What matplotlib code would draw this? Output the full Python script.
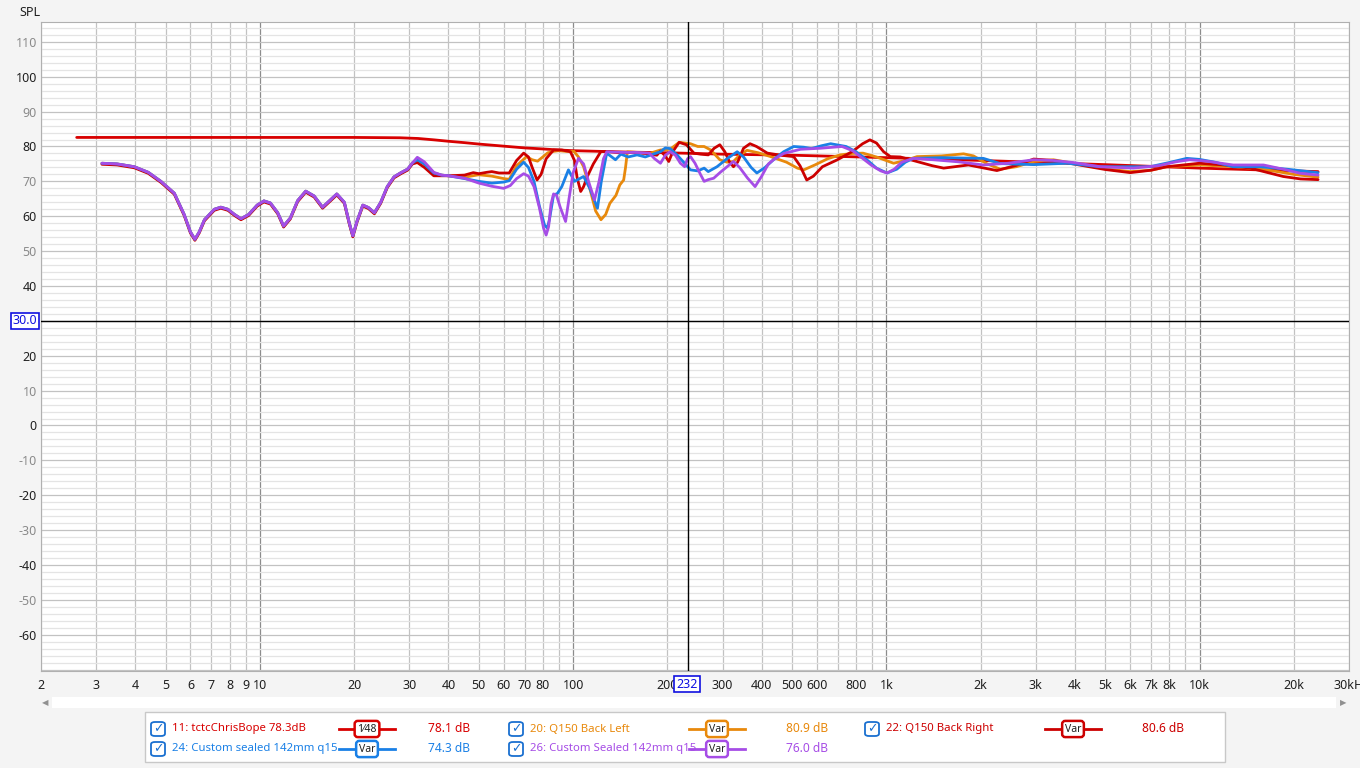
import matplotlib
matplotlib.use("Agg")
import matplotlib.pyplot as plt
from matplotlib.patches import Rectangle, FancyBboxPatch
from matplotlib.lines import Line2D

plt.rcParams['font.family'] = ['Noto Sans', 'DejaVu Sans']

# low frequency part, the same for all four measurements
lf_freq = [3.13, 3.5, 3.97, 4.4, 4.83, 5.33, 5.73, 6.0, 6.2, 6.4, 6.65, 7.15, 7.5, 7.9,
           8.3, 8.7, 9.2, 9.8, 10.3, 10.8, 11.4, 11.9, 12.5, 13.2, 14.0, 14.9, 15.85,
           16.7, 17.6, 18.6, 19.3, 19.8, 20.4, 21.3, 22.2, 23.2, 24.3, 25.5, 26.8,
           28.2, 29.6, 30.7]
lf_spl = [75.2, 75.0, 74.2, 72.6, 70.0, 66.6, 60.5, 55.5, 53.4, 55.5, 59.0, 62.0, 62.6,
          62.0, 60.5, 59.3, 60.5, 63.2, 64.4, 63.8, 61.0, 57.2, 59.5, 64.5, 67.2, 65.8,
          62.6, 64.5, 66.4, 64.0, 58.0, 54.4, 58.5, 63.2, 62.5, 61.0, 64.0, 68.5, 71.3,
          72.5, 73.5, 75.3]

# 11: target curve
target_freq = [2.6, 10, 20, 28, 32, 36, 40, 45, 50, 60, 70, 80, 90, 100, 150, 200, 300,
               500, 1000, 2000, 5000, 10000, 20000, 23900]
target_spl = [82.6, 82.6, 82.6, 82.5, 82.3, 81.9, 81.5, 81.1, 80.7, 80.1, 79.6, 79.3,
              79.0, 78.8, 78.4, 78.2, 77.8, 77.5, 76.8, 76.0, 74.8, 73.8, 73.0, 72.8]

# 20: Q150 Back Left
left_freq = [31.8, 33.5, 35.9, 38, 40, 45, 50, 55, 60, 62.5, 66, 71, 74, 77, 80, 83, 86.6,
             90, 95, 100.6, 104, 108, 113, 118, 122.7, 127, 131, 137, 141, 145, 147, 149,
             160, 175, 190, 204, 218, 237, 250, 262, 275, 294, 310, 325, 340, 359, 390,
             427, 480, 520, 545, 591, 650, 712, 780, 842, 930, 1055, 1150, 1253, 1500,
             1764, 1898, 2100, 2311, 2600, 2953, 3414, 4256, 5000, 6010, 7000, 7854,
             10050, 13000, 16400, 20000, 23900]
left_spl = [76.2, 75.0, 72.4, 71.8, 71.6, 71.2, 71.9, 71.5, 70.8, 70.6, 74.5, 77.1, 76.2,
            75.8, 77.0, 78.2, 78.6, 78.8, 78.6, 78.6, 77.0, 74.2, 68.0, 61.5, 59.0, 60.5,
            63.7, 66.0, 69.0, 70.4, 74.0, 78.5, 78.3, 78.0, 79.0, 79.2, 81.2, 80.8, 80.0,
            80.0, 79.0, 76.2, 75.5, 75.7, 77.5, 78.9, 78.2, 77.1, 75.5, 73.8, 73.3, 74.7,
            76.5, 77.6, 78.0, 78.1, 77.0, 75.2, 76.0, 77.1, 77.3, 77.9, 77.3, 75.0, 73.5,
            74.2, 75.7, 76.2, 74.7, 73.6, 72.8, 73.2, 74.2, 74.7, 74.2, 73.3, 72.0, 71.2]

# 22: Q150 Back Right
right_freq = [31.8, 33.5, 35.9, 38, 40, 45, 48, 50, 53, 55, 58, 62.5, 66, 69.5, 72, 74,
              76.7, 79, 82, 86.6, 92, 98, 101, 103, 105.7, 108, 111, 116, 122.7, 130,
              140, 155, 170, 185, 190, 196, 202, 208, 218, 230, 243, 255, 270, 282, 294,
              305, 316, 325, 335, 350, 367, 385, 417, 460, 506, 530, 557, 585, 625, 698,
              780, 840, 886, 930, 980, 1030, 1108, 1253, 1400, 1524, 1828, 2254, 2600,
              2953, 3414, 4256, 5000, 6010, 7000, 7854, 10000, 12000, 14500, 18500,
              21000, 23900]
right_spl = [75.4, 74.0, 71.6, 71.6, 71.6, 71.8, 72.5, 72.2, 72.6, 72.8, 72.4, 72.4, 76.0,
             78.1, 77.0, 74.0, 70.4, 72.0, 76.5, 79.0, 79.0, 78.5, 76.0, 71.0, 67.1, 68.5,
             71.4, 75.0, 78.6, 78.5, 78.2, 78.3, 78.0, 77.5, 78.7, 77.5, 75.7, 78.5, 81.2,
             80.5, 78.1, 77.8, 77.6, 79.5, 80.5, 78.5, 75.5, 74.2, 75.5, 79.5, 80.8, 80.0,
             78.1, 77.5, 77.1, 74.5, 70.4, 71.5, 74.2, 76.2, 78.6, 80.8, 81.9, 81.0, 78.5,
             77.1, 77.0, 75.7, 74.5, 73.8, 74.7, 73.1, 74.6, 76.4, 76.0, 74.5, 73.4, 72.5,
             73.2, 74.2, 75.2, 74.7, 73.8, 71.4, 70.7, 70.5]

# 24: Custom sealed 142mm q15
sealed_freq = [31.8, 33.5, 35.9, 38, 40, 45, 50, 55, 60, 62.5, 66, 69.5, 72, 75, 78, 81,
               82.7, 84, 86.6, 89, 92, 96.6, 101, 108, 113, 119.6, 123, 128, 136.5, 142,
               150, 160, 170, 180, 190, 197, 204, 215, 228, 237, 250, 262, 270, 288, 310,
               334, 350, 370, 386, 410, 436, 470, 506, 545, 576, 620, 664, 744, 800, 866,
               930, 1005, 1080, 1150, 1219, 1500, 2040, 2311, 2953, 3770, 4817, 6941,
               8000, 9103, 10000, 11200, 12800, 15600, 19000, 23900]
sealed_spl = [76.2, 75.0, 72.4, 71.8, 71.6, 70.8, 70.0, 69.5, 69.8, 70.2, 73.5, 75.5, 74.0,
              70.0, 63.0, 57.5, 56.6, 59.0, 66.1, 66.5, 68.5, 73.3, 70.0, 71.4, 68.0, 62.3,
              70.0, 78.1, 76.2, 77.8, 77.0, 77.6, 77.0, 77.8, 78.5, 79.6, 79.4, 77.5, 75.0,
              73.3, 73.0, 73.8, 72.8, 74.2, 76.5, 78.5, 77.0, 74.0, 72.4, 74.0, 76.2, 78.5,
              80.0, 79.8, 79.4, 80.2, 80.8, 80.0, 78.5, 76.2, 73.8, 72.4, 73.5, 75.5, 76.6,
              76.8, 76.6, 75.1, 74.8, 75.2, 74.2, 74.2, 75.4, 76.6, 76.3, 75.5, 74.2, 74.2,
              73.5, 72.5]

# 26: Custom Sealed 142mm q15 (second one)
sealed2_freq = [31.8, 33.5, 35.9, 38, 40, 45, 50, 55, 60, 63, 66, 69.5, 72, 75, 78, 80.5,
                82, 83.5, 85, 86.6, 88.5, 91, 94.6, 97, 100, 104, 108, 112, 117, 121, 125,
                128, 135, 145, 160, 175, 182, 190, 197, 204, 212, 220, 227, 232, 237, 245,
                255, 262, 270, 281, 295, 310, 325, 340, 360, 381, 400, 420, 436, 470, 532,
                616, 680, 722, 780, 826, 900, 960, 1005, 1060, 1120, 1219, 1413, 1700,
                2040, 2450, 2953, 3400, 3958, 4817, 6139, 7400, 8400, 9300, 10500, 12800,
                16000, 18500, 21000, 23900]
sealed2_spl = [76.9, 75.6, 72.6, 71.8, 71.6, 70.9, 69.5, 68.6, 68.0, 68.8, 70.8, 72.2,
               71.5, 68.5, 62.5, 56.5, 54.6, 57.0, 63.5, 66.4, 66.0, 62.5, 58.5, 65.0, 72.5,
               76.6, 75.0, 70.0, 64.7, 70.0, 76.5, 78.5, 78.4, 78.3, 78.3, 78.1, 76.5, 75.2,
               77.5, 78.5, 77.5, 75.2, 74.2, 76.5, 77.1, 75.2, 72.0, 70.0, 70.5, 70.9, 72.6,
               74.2, 75.7, 74.0, 71.0, 68.5, 71.5, 75.0, 76.2, 78.0, 79.2, 79.5, 79.8, 80.0,
               78.8, 77.1, 74.5, 73.0, 72.4, 73.5, 75.5, 76.6, 76.2, 75.6, 74.7, 75.2, 76.2,
               76.0, 75.4, 74.2, 73.8, 74.5, 75.6, 76.2, 75.8, 74.7, 74.7, 73.5, 72.3, 71.8]

x_ticks = [2, 3, 4, 5, 6, 7, 8, 9, 10, 20, 30, 40, 50, 60, 70, 80, 100, 200, 300, 400, 500,
           600, 800, 1000, 2000, 3000, 4000, 5000, 6000, 7000, 8000, 10000, 20000, 30000]
x_labels = ['2', '3', '4', '5', '6', '7', '8', '9', '10', '20', '30', '40', '50', '60', '70',
            '80', '100', '200', '300', '400', '500', '600', '800', '1k', '2k', '3k', '4k',
            '5k', '6k', '7k', '8k', '10k', '20k', '30kH']
y_ticks = list(range(-60, 111, 10))

RED = '#d80000'
RED2 = '#cc0000'
ORANGE = '#e8890c'
BLUE = '#1a80e6'
PURPLE = '#a64de6'

W, H = 1360, 768
fig = plt.figure(figsize=(W / 100, H / 100), dpi=100)
fig.patch.set_facecolor('#f4f4f4')


def fx(x):
    return x / W


def fy(y):
    return 1 - y / H


ax = fig.add_axes([fx(41), fy(671), fx(1349) - fx(41), fy(22) - fy(671)])
ax.set_xscale('log')
ax.set_xlim(2, 30000)
ax.set_ylim(-70.4, 115.7)
ax.set_facecolor('white')

# grid
for dec in [1, 10, 100, 1000, 10000]:
    for m in range(1, 10):
        f = dec * m
        if 2 <= f <= 30000:
            col = '#8c8c8c' if m == 1 else '#c2c2c2'
            ax.axvline(f, color=col, lw=0.9, zorder=0)
for v in range(-70, 116, 2):
    col = '#c2c2c2' if v % 10 == 0 else '#e4e4e4'
    ax.axhline(v, color=col, lw=0.9, zorder=0)

for s in ax.spines.values():
    s.set_color('#b0b0b0')

ax.set_xticks(x_ticks)
ax.set_xticklabels(x_labels)
ax.xaxis.set_minor_locator(matplotlib.ticker.NullLocator())
ax.set_yticks(y_ticks)
# the 30 label is hidden behind the cursor readout box
ax.set_yticklabels(['' if v == 30 else str(v) for v in y_ticks])
for lab, v in zip(ax.get_yticklabels(), y_ticks):
    lab.set_color('#202020' if v % 20 == 0 else '#8a8a8a')
ax.tick_params(axis='both', length=0, labelsize=9)
ax.tick_params(axis='y', pad=3)
ax.tick_params(axis='x', pad=6, labelcolor='#202020')

# curves
kw = dict(lw=2.0, zorder=3, solid_joinstyle='round', solid_capstyle='round')
ax.plot(target_freq, target_spl, color=RED, **kw)
ax.plot(lf_freq + left_freq, lf_spl + left_spl, color=ORANGE, **kw)
ax.plot(lf_freq + right_freq, [v - 0.3 for v in lf_spl] + right_spl, color=RED2, **kw)
ax.plot(lf_freq + sealed_freq, lf_spl + sealed_spl, color=BLUE, **kw)
ax.plot(lf_freq + sealed2_freq, lf_spl + sealed2_spl, color=PURPLE, **kw)

# cursor
ax.axvline(232, color='black', lw=1.0, zorder=4)
ax.axhline(30, color='black', lw=1.0, zorder=4)

fig.text(fx(687), fy(684), '232', color='#1010e0', fontsize=9, ha='center', va='center',
         bbox=dict(boxstyle='square,pad=0.15', fc='white', ec='#1010e0', lw=1.2))
fig.text(fx(25), fy(321), '30.0', color='#1010e0', fontsize=9, ha='center', va='center',
         bbox=dict(boxstyle='square,pad=0.15', fc='white', ec='#1010e0', lw=1.2))

fig.text(fx(19), fy(12), 'SPL', color='#202020', fontsize=9, ha='left', va='center')

# scrollbar
fig.patches.append(Rectangle((fx(52), fy(708)), fx(1336) - fx(52), fy(697) - fy(708),
                             transform=fig.transFigure, fc='white', ec='none'))
fig.text(fx(45), fy(703), '\u25c0', color='#909090', fontsize=6, ha='center', va='center')
fig.text(fx(1343), fy(703), '\u25b6', color='#909090', fontsize=6, ha='center', va='center')

# legend panel
fig.patches.append(Rectangle((fx(145), fy(762)), fx(1225) - fx(145), fy(712) - fy(762),
                             transform=fig.transFigure, fc='white', ec='#c8c8c8', lw=1))

legend_items = [
    ('11: tctcChrisBope 78.3dB', '1\u204448', '78.1 dB', RED, 0, 0),
    ('20: Q150 Back Left', 'Var', '80.9 dB', ORANGE, 1, 0),
    ('22: Q150 Back Right', 'Var', '80.6 dB', RED2, 2, 0),
    ('24: Custom sealed 142mm q15', 'Var', '74.3 dB', BLUE, 0, 1),
    ('26: Custom Sealed 142mm q15', 'Var', '76.0 dB', PURPLE, 1, 1),
]
col_x = [158, 516, 872]
for name, box, val, col, c, r in legend_items:
    x0 = col_x[c]
    y0 = 729 + r * 20
    # checkbox
    fig.patches.append(FancyBboxPatch((fx(x0 - 7), fy(y0 + 7)), fx(14), 14 / H,
                                      boxstyle='round,pad=0,rounding_size=0.003',
                                      transform=fig.transFigure, fc='white',
                                      ec='#1a70d0', lw=1.3))
    fig.text(fx(x0), fy(y0), '\u2713', color='#1a70d0', fontsize=9, ha='center',
             va='center', family='DejaVu Sans')
    fig.text(fx(x0 + 14), fy(y0), name, color=col, fontsize=8.2, ha='left', va='center')
    # line sample with smoothing box
    lx = x0 + 209 if c == 0 else x0 + 201
    fig.lines.append(Line2D([fx(lx - 28), fx(lx + 28)], [fy(y0), fy(y0)],
                            transform=fig.transFigure, color=col, lw=2))
    fig.text(fx(lx), fy(y0), box, color='#202020', fontsize=7.5, ha='center', va='center',
             bbox=dict(boxstyle='round,pad=0.25,rounding_size=0.3', fc='white', ec=col, lw=1.8))
    fig.text(fx(x0 + 312), fy(y0), val, color=col, fontsize=8.6, ha='right', va='center')

fig.savefig('out.png', dpi=100, facecolor=fig.get_facecolor())
